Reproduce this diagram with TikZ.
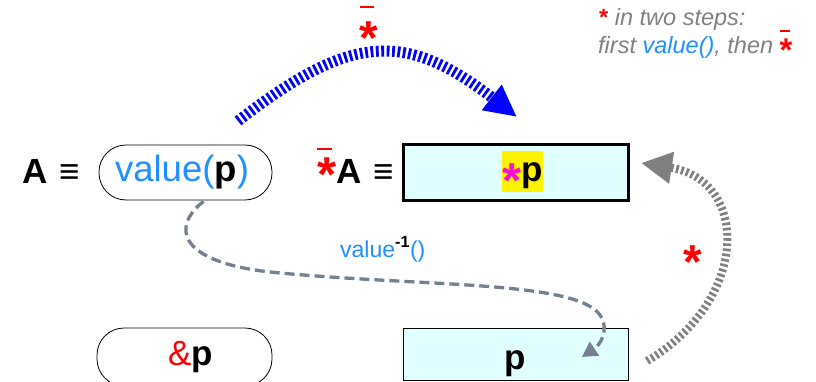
\documentclass[tikz,border=0pt]{standalone}
\usepackage{fontspec}
\setmainfont{Liberation Sans}
\usepackage{graphicx}
\usetikzlibrary{arrows.meta}
\definecolor{vblue}{HTML}{1E90FF}
\definecolor{lcyan}{HTML}{E0FFFF}
\definecolor{sgray}{HTML}{738090}
\definecolor{agray}{HTML}{808080}
\definecolor{mag}{HTML}{FF10D0}
\newcommand\bstar[1][-0.45em]{\raisebox{#1}{\scalebox{1.4}{*}}}
\newcommand\barstar[2][-0.45em]{\leavevmode\rlap{\raisebox{#2}{\rule{0.42em}{0.06em}}}\bstar[#1]}
\begin{document}
\begin{tikzpicture}[x=1pt,y=-1pt,
  big/.style={font=\fontsize{35}{42}\selectfont},
  capsule/.style={draw=black, line width=0.8pt, rounded corners=27pt, minimum width=173pt, minimum height=55pt, big},
  cell/.style={draw=black, fill=lcyan, minimum width=225pt, inner sep=0pt},
  note/.style={font=\fontsize{23.5}{28}\selectfont\itshape, text=agray, anchor=base west, inner sep=0pt}]
\useasboundingbox (0,0) rectangle (816,382);

% top row
\node[big, anchor=base west, inner sep=0pt] (A) at (22,184) {\bfseries A\hspace{12pt}≡};
\node[capsule, font=\fontsize{36.5}{42}\selectfont] (v) at (185.5,172.5) {\kern-7pt\textcolor{vblue}{value(}\textbf{p}\textcolor{vblue}{)}};
\node[big, anchor=base west, inner sep=0pt] (SA) at (317,184) {\bfseries\textcolor{red}{\barstar[-0.2em]{0.97em}}A\hspace{12pt}≡};
\node[cell, line width=3pt, minimum height=56pt] (b1) at (515.5,173) {};
\node[fill=yellow, inner sep=0pt, minimum width=38pt, minimum height=41pt, text height=28pt, text depth=7pt, big] (hp) at (522.5,171.5) {\bfseries\textcolor{mag}{\bstar}p};

% bottom row
\node[capsule, minimum height=58pt, minimum width=175pt] (amp) at (184.5,357) {\textcolor{red}{\&}\textbf{p}\kern-12pt};
\node[cell, line width=0.8pt, minimum height=52pt, text height=30pt, text depth=0pt, big] (b2) at (515.5,354) {\bfseries p};

% top arrow
\coordinate (t0) at (238,121);
\coordinate (t1) at (517,117);
\draw[blue, line width=11pt, dash pattern=on 2.8pt off 2.6pt,
  -{Triangle[length=32pt,width=30pt]}]
  (t0) .. controls (350,34) and (405,30) .. (t1);
\node[text=red, font=\fontsize{34}{40}\selectfont\bfseries] (lab1) at (369,30) {\barstar{0.92em}};

% gray dashed arrow value^-1
\coordinate (e2) at (582,357);
\draw[sgray, line width=3.3pt, dash pattern=on 10pt off 5pt,
  -{Triangle[length=15pt,width=16pt]}]
  (v.south) ++(18,1) .. controls (170,228) and (180,262) .. (270,272)
  .. controls (420,287) and (575,280) .. (600,315)
  .. controls (610,330) and (600,345) .. (e2);
\node[text=vblue, font=\fontsize{23}{27}\selectfont, anchor=base west, inner sep=0pt] (vinv) at (340,257) {value\textsuperscript{\textcolor{black}{\bfseries -1}}()};

% right gray arrow
\coordinate (r0) at (647,361);
\coordinate (r1) at (641,163);
\draw[agray, line width=8pt, dash pattern=on 2.6pt off 2.6pt,
  -{Triangle[length=31pt,width=30pt]}]
  (r0) .. controls (750,300) and (750,180) .. (r1);
\node[text=red, font=\fontsize{34}{40}\selectfont\bfseries] (lab2) at (693,262) {\bstar};

% note
\node[note] (n1) at (599,26) {\textcolor{red}{\upshape\bfseries *} in two steps:};
\node[note] (n2) at (598,54) {first \textcolor{vblue}{value()}, then \textcolor{red}{\upshape\bfseries\barstar[-0.3em]{0.95em}}};
\end{tikzpicture}
\end{document}
